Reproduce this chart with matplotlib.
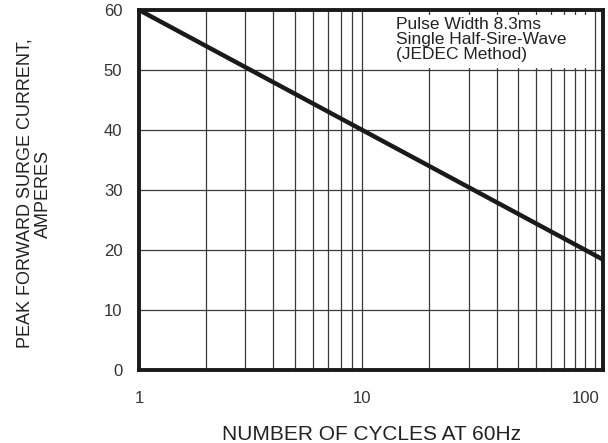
import matplotlib
matplotlib.use('Agg')
import matplotlib.pyplot as plt
from matplotlib.patches import Rectangle
from matplotlib.ticker import FixedLocator, NullFormatter

plt.rcParams['font.family'] = ['Liberation Sans', 'DejaVu Sans']

# surge current vs number of cycles
cycles = [1, 10, 100, 120]
current = [60, 40, 20, 18.4]

x_ticks = [1, 10, 100]
x_tick_labels = ['1', '10', '100']
y_ticks = [0, 10, 20, 30, 40, 50, 60]

fig = plt.figure(figsize=(6.08, 4.43), dpi=100)
ax = fig.add_axes([139 / 608, 73 / 443, 464 / 608, 360 / 443])

ax.set_xscale('log')
ax.set_xlim(1, 120)
ax.set_ylim(0, 60)

# grid
minor = [m * d for d in [1, 10] for m in range(2, 10)] + [110]
ax.xaxis.set_minor_locator(FixedLocator(minor))
ax.xaxis.set_minor_formatter(NullFormatter())
ax.set_xticks(x_ticks)
ax.set_xticklabels(x_tick_labels)
ax.set_yticks(y_ticks)
ax.grid(True, which='both', color='#3a3a3a', linewidth=0.9)
ax.set_axisbelow(True)

# white box behind the note
ax.add_patch(Rectangle((0.509, 0.839), 0.467, 0.147, transform=ax.transAxes,
                       facecolor='white', edgecolor='none', zorder=1.5))

ax.plot(cycles, current, color='#1a1a1a', linewidth=3.2, solid_capstyle='butt', zorder=3)

for s in ax.spines.values():
    s.set_linewidth(2.8)
    s.set_color('#1a1a1a')

ax.tick_params(which='both', length=0, labelsize=12, colors='#333333')
ax.tick_params(axis='x', pad=15)
ax.tick_params(axis='y', pad=12)

ax.set_xlabel('NUMBER OF CYCLES AT 60Hz', fontsize=15, color='#222222', va='top')
ax.xaxis.set_label_coords(0.5, -0.152)
ax.set_ylabel('PEAK FORWARD SURGE CURRENT,\nAMPERES', fontsize=13, color='#222222',
              linespacing=1.1)
ax.yaxis.set_label_coords(-0.188, 0.49)

ax.text(0.553, 0.98, 'Pulse Width 8.3ms\nSingle Half-Sire-Wave\n(JEDEC Method)',
        transform=ax.transAxes, ha='left', va='top', fontsize=12.5, color='#222222',
        linespacing=1.0, zorder=4)

fig.savefig('out.png', dpi=100)
